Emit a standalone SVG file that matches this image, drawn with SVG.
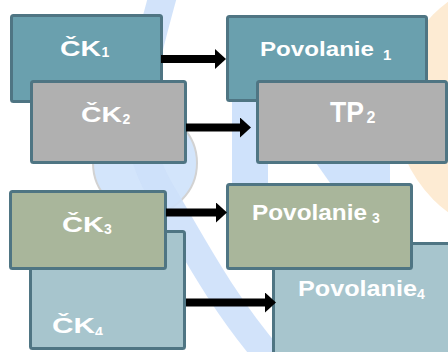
<svg xmlns="http://www.w3.org/2000/svg" width="448" height="352" viewBox="0 0 448 352">
<style>
.bx{stroke:#4f7583;stroke-width:3}
.c1{fill:#6aa0ae}.c2{fill:#b0b0b0}.c3{fill:#a9b69b}.c4{fill:#a7c5cd}
.t{fill:#ffffff;font-family:"Liberation Sans",Arial,sans-serif;font-weight:bold}
.ar{stroke:#000;stroke-width:8;fill:none;marker-end:url(#ah)}
.bg{fill:#cfe2fb}
</style>
<defs>
<marker id="ah" markerUnits="userSpaceOnUse" markerWidth="11" markerHeight="20" refX="0" refY="10" orient="auto"><path d="M0,0 L11,10 L0,20 z" fill="#000"/></marker>
<clipPath id="clip4"><rect x="0" y="0" width="448" height="335"/></clipPath>
</defs>
<rect width="448" height="352" fill="#fff"/>
<g id="background">
<circle cx="526" cy="107" r="131" fill="#fdebd3"/>
<rect class="bg" x="232" y="20" width="36" height="170"/>
<polygon class="bg" points="300,140 390,140 390,190 335,190"/>
<circle cx="145" cy="163" r="52" fill="#d3e5fb" stroke="#d2d2d2" stroke-width="2"/>
<path d="M163,-5 C140,80 125,130 160,190 C190,240 220,300 272,360" fill="none" stroke="#cde0fa" stroke-width="28" opacity="0.9"/>
</g>
<g id="ck1"><rect class="bx c1" x="11.5" y="15.5" width="150" height="86" rx="2"/><text class="t" x="60" y="55.5" font-size="22"><tspan textLength="41" lengthAdjust="spacingAndGlyphs">ČK</tspan><tspan x="101.5" y="57" font-size="14">1</tspan></text></g>
<g id="ck2"><rect class="bx c2" x="31.5" y="81.5" width="154" height="81" rx="2"/><text class="t" x="81" y="122" font-size="22"><tspan textLength="41" lengthAdjust="spacingAndGlyphs">ČK</tspan><tspan x="122.5" y="123.5" font-size="14">2</tspan></text></g>
<g id="ck4"><rect class="bx c4" x="30.5" y="231.5" width="154" height="117" rx="2"/><text class="t" x="52" y="333" font-size="22" clip-path="url(#clip4)"><tspan textLength="43" lengthAdjust="spacingAndGlyphs">ČK</tspan><tspan x="95" y="337" font-size="14">4</tspan></text></g>
<g id="ck3"><rect class="bx c3" x="10.5" y="191.5" width="155" height="77" rx="2"/><text class="t" x="62" y="231.5" font-size="22"><tspan textLength="42" lengthAdjust="spacingAndGlyphs">ČK</tspan><tspan x="104" y="234" font-size="14">3</tspan></text></g>
<g id="povolanie1"><rect class="bx c1" x="227.5" y="16.5" width="199" height="84" rx="2"/><text class="t" x="260" y="56" font-size="21"><tspan textLength="114" lengthAdjust="spacingAndGlyphs">Povolanie</tspan><tspan x="383" y="59.5" font-size="15">1</tspan></text></g>
<g id="tp2"><rect class="bx c2" x="257.5" y="81.5" width="189" height="81" rx="2"/><text class="t" x="330" y="121.5" font-size="29"><tspan textLength="34" lengthAdjust="spacingAndGlyphs">TP</tspan><tspan x="366.5" y="122.5" font-size="16">2</tspan></text></g>
<g id="povolanie4"><rect class="bx c4" x="273.5" y="243.5" width="200" height="150" rx="2"/><text class="t" x="298" y="296" font-size="22"><tspan textLength="119" lengthAdjust="spacingAndGlyphs">Povolanie</tspan><tspan x="417" y="299" font-size="14">4</tspan></text></g>
<g id="povolanie3"><rect class="bx c3" x="227.5" y="184.5" width="184" height="84" rx="2"/><text class="t" x="252" y="219.5" font-size="22"><tspan textLength="115" lengthAdjust="spacingAndGlyphs">Povolanie</tspan><tspan x="372" y="222.5" font-size="14">3</tspan></text></g>
<g id="connectors">
<line class="ar" x1="161" y1="59" x2="215" y2="59"/>
<line class="ar" x1="186" y1="127.5" x2="240" y2="127.5"/>
<line class="ar" x1="166" y1="212.5" x2="216" y2="212.5"/>
<line class="ar" x1="186" y1="302.5" x2="265" y2="302.5"/>
</g>
</svg>
